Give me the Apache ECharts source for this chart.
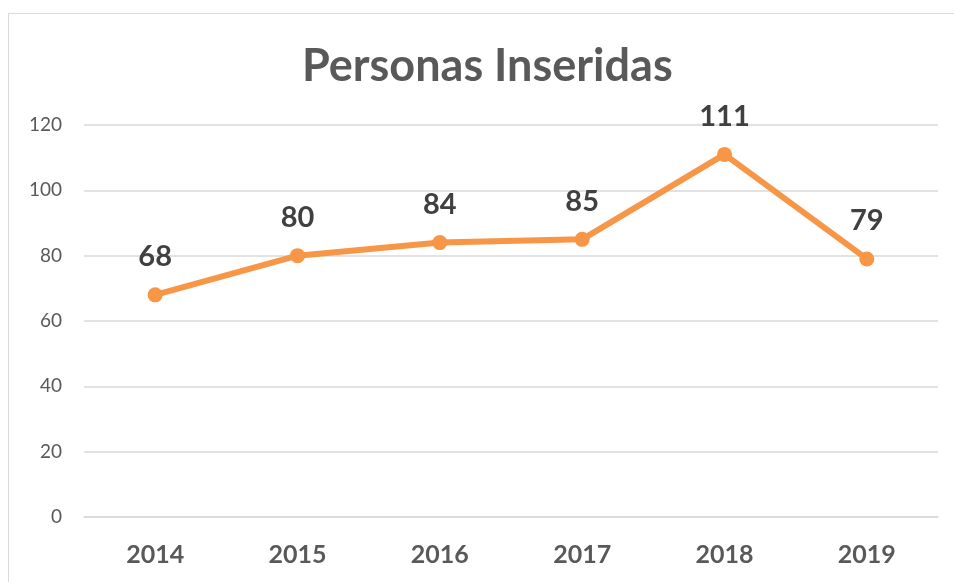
<!DOCTYPE html>
<html>
<head>
<meta charset="utf-8">
<script src="https://cdn.jsdelivr.net/npm/echarts@6/dist/echarts.min.js"></script>
<style>
html,body{margin:0;padding:0;background:#fff;overflow:hidden;}
#frame{position:absolute;left:8px;top:13px;width:1000px;height:700px;border-left:1px solid #d9d9d9;border-top:1px solid #d9d9d9;}
#chart{position:absolute;left:0;top:0;width:954px;height:582px;}
</style>
</head>
<body>
<div id="frame"></div>
<div id="chart"></div>
<script>
const categories = ['2014','2015','2016','2017','2018','2019'];
const values = [68, 80, 84, 85, 111, 79];
const yTicks = {min: 0, max: 120, interval: 20};

const chart = echarts.init(document.getElementById('chart'));
chart.setOption({
  backgroundColor: 'transparent',
  animation: false,
  title: {
    text: 'Personas Inseridas',
    left: 297,
    top: 39,
    textStyle: {fontFamily: 'Lato', fontWeight: 'bold', fontSize: 45, color: '#595959'}
  },
  grid: {left: 84, right: 16, top: 125, bottom: 65},
  xAxis: {
    type: 'category',
    data: categories,
    boundaryGap: true,
    axisLine: {show: true, lineStyle: {color: '#d9d9d9', width: 1.5}},
    axisTick: {show: false},
    axisLabel: {fontFamily: 'Lato', fontWeight: 'bold', fontSize: 25, color: '#595959', margin: 25}
  },
  yAxis: {
    type: 'value',
    min: yTicks.min, max: yTicks.max, interval: yTicks.interval,
    axisLine: {show: false},
    axisTick: {show: false},
    splitLine: {lineStyle: {color: '#d9d9d9', width: 1.5}},
    axisLabel: {fontFamily: 'Lato', fontSize: 19, color: '#595959', margin: 22}
  },
  series: [{
    type: 'line',
    data: values,
    symbol: 'circle',
    symbolSize: 15,
    lineStyle: {color: '#F79646', width: 6},
    itemStyle: {color: '#F79646'},
    label: {
      show: true, position: 'top', distance: 16,
      fontFamily: 'Lato', fontWeight: 'bold', fontSize: 29, color: '#404040'
    }
  }]
});
</script>
</body>
</html>
